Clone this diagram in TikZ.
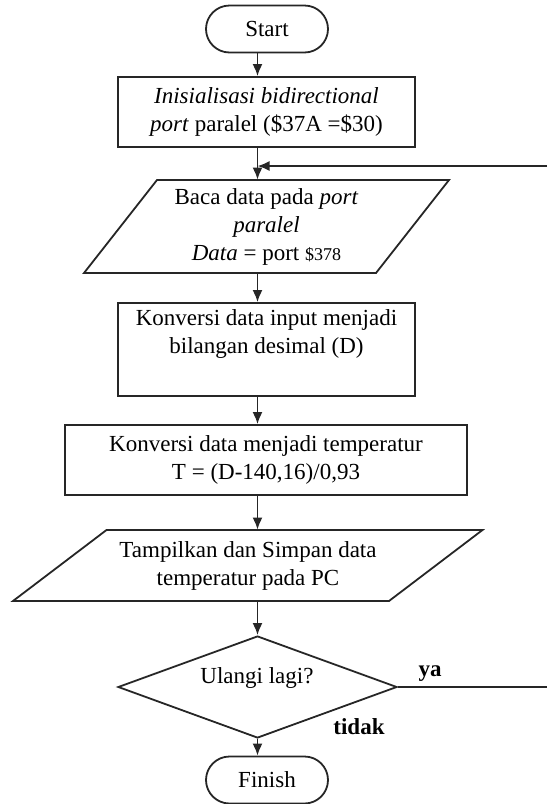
\documentclass[tikz,border=0pt]{standalone}
\usepackage{fontspec}
\setmainfont{Liberation Serif}
\usetikzlibrary{shapes.geometric,shapes.misc,arrows.meta}

\begin{document}
\begin{tikzpicture}[x=0.5pt,y=-0.5pt,
    font=\fontsize{11.5}{14}\selectfont,
    garis/.style={line width=0.9pt, draw=black!85},
    panah/.style={garis, -{Latex[length=6pt,width=5pt]}},
    terminal/.style={garis, rounded rectangle, minimum width=61pt, minimum height=23.5pt, inner sep=0pt},
    proses/.style={garis, rectangle, align=center, inner sep=0pt},
    io/.style={align=center, inner sep=0pt},
    keputusan/.style={garis, diamond, minimum width=139.5pt, minimum height=51pt, inner sep=0pt},
    tebal/.style={font=\fontsize{11.5}{14}\selectfont\bfseries}]
    \useasboundingbox (0,0) rectangle (547,804);
    \coordinate (sumbu) at (257.5,0);

    \node[terminal] (start) at (267,29) {Start};
    \node[proses, minimum width=148.5pt, minimum height=35pt] (init) at (266.5,112)
        {\textit{Inisialisasi bidirectional}\\ \textit{port} paralel (\$37A =\$30)};

    % input port paralel
    \node[io, minimum height=46.5pt] (baca) at (266.5,226.5)
        {Baca data pada \textit{port}\\ \textit{paralel}\\ \textit{Data} = port {\fontsize{9}{11}\selectfont\$378}};
    \draw[garis] ([shift={(-109.5,-46.5)}]baca.center) -- ++(292,0) -- ++(-73,93) -- ++(-292,0) -- cycle;

    \node[proses, minimum width=148.5pt, minimum height=46.5pt] (konversi) at (266.5,349.5)
        {Konversi data input menjadi\\ bilangan desimal (D)\\ \strut};
    \node[proses, minimum width=201pt, minimum height=35pt] (suhu) at (266,460)
        {Konversi data menjadi temperatur\\ T = (D-140,16)/0,93};

    % output ke PC
    \node[io, minimum height=35.5pt] (simpan) at (248,565.5)
        {Tampilkan dan Simpan data\\ temperatur pada PC};
    \draw[garis] ([shift={(-141.5,-35.5)}]simpan.center) -- ++(376,0) -- ++(-93.5,71) -- ++(-376,0) -- cycle;

    \node[keputusan] (cek) at (257.5,687) {};
    \node (tanya) at (257,678) {Ulangi lagi?};
    \node[tebal] (ya) at (430,674) {ya};
    \node[tebal] (tidak) at (359,727) {tidak};

    \node[terminal] (finish) at (267,780) {Finish};

    \coordinate (kanan) at (547,687);
    \coordinate (balik) at (547,166);

    \draw[panah] (start.south -| sumbu) -- (init.north -| sumbu);
    \draw[panah] (init.south -| sumbu) -- (baca.north -| sumbu);
    \draw[panah] (baca.south -| sumbu) -- (konversi.north -| sumbu);
    \draw[panah] (konversi.south -| sumbu) -- (suhu.north -| sumbu);
    \draw[panah] (suhu.south -| sumbu) -- (simpan.north -| sumbu);
    \draw[panah] (simpan.south -| sumbu) -- (cek.north);
    \draw[panah] (cek.south) -- (finish.north -| sumbu);

    % kembali ke pembacaan port
    \draw[garis] (cek.east) -- (kanan);
    \draw[panah] (balik) -- (balik -| sumbu);
\end{tikzpicture}
\end{document}
